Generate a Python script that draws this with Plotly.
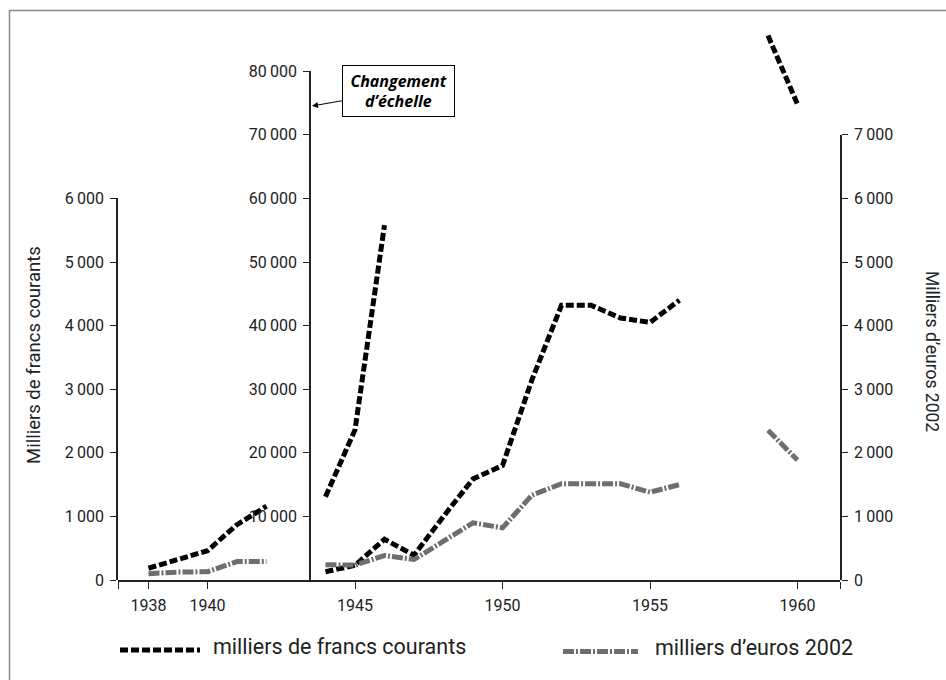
import plotly.graph_objects as go

# ---------------- data ----------------
years_a = [1938, 1939, 1940, 1941, 1942]
francs_a = [185, 320, 460, 870, 1160]          # left axis (milliers de francs)
euros_a = [100, 125, 130, 290, 290]            # right axis (milliers d'euros 2002)

years_hi = [1944, 1945, 1946]
francs_hi = [13100, 23600, 55800]              # middle axis (changement d'échelle)

years_b = [1944, 1945, 1946, 1947, 1948, 1949, 1950, 1951, 1952, 1953, 1954, 1955, 1956]
francs_b = [1300, 2300, 6400, 3900, 10000, 15900, 18000, 31500, 43200, 43200, 41200, 40500, 44000]
euros_b = [240, 235, 385, 322, 610, 900, 820, 1335, 1513, 1513, 1513, 1380, 1500]

years_c = [1959, 1960]
francs_c = [85600, 74800]
euros_c = [2355, 1885]

x_ticks = [1938, 1940, 1945, 1950, 1955, 1960]
left_ticks = [0, 1000, 2000, 3000, 4000, 5000, 6000]
mid_ticks = [10000, 20000, 30000, 40000, 50000, 60000, 70000, 80000]
right_ticks = [0, 1000, 2000, 3000, 4000, 5000, 6000, 7000]

label_francs = "milliers de francs courants"
label_euros = "milliers d\u2019euros 2002"

# ---------------- geometry helpers ----------------
W, H = 946, 680
ML, MR, MT, MB = 118, 106, 20, 100
PW, PH = W - ML - MR, H - MT - MB
PX_PER_YEAR = 29.5
PX_PER_UNIT = 63.6 / 1000.0       # px per (left/right unit); middle axis = /10
X0 = 1945 - (355 - ML) / PX_PER_YEAR
X1 = X0 + PW / PX_PER_YEAR


def px(xp):
    return (xp - ML) / PW


def py(yp):
    return (H - MB - yp) / PH


def fmt(v):
    return f"{v:,}".replace(",", "\u2009")


FONT = "Roboto, 'DejaVu Sans', sans-serif"
AX = "#222222"
BLACK_DASH = "8px,3px"
GREY_DASH = "11px,2px,2px,2px"
GREY = "#6e6e6e"

fig = go.Figure()


def line(x, y, yaxis, color, dash):
    fig.add_trace(go.Scatter(x=x, y=y, xaxis="x", yaxis=yaxis, mode="lines",
                             line=dict(color=color, width=5, dash=dash),
                             showlegend=False, hoverinfo="x+y"))


# grey (euros) first, black (francs) on top
line(years_a, euros_a, "y4", GREY, GREY_DASH)
line(years_b, euros_b, "y4", GREY, GREY_DASH)
line(years_c, euros_c, "y4", GREY, GREY_DASH)
line(years_a, francs_a, "y2", "black", BLACK_DASH)
line(years_hi, francs_hi, "y3", "black", BLACK_DASH)
line(years_b, francs_b, "y3", "black", BLACK_DASH)
line(years_c, francs_c, "y", "black", BLACK_DASH)

tickfont = dict(family=FONT, size=16, color=AX)
common_y = dict(showline=True, linecolor=AX, linewidth=1.5, ticks="outside",
                ticklen=6, tickwidth=1.2, tickcolor=AX, showgrid=False,
                zeroline=False, tickfont=tickfont, fixedrange=True,
                ticklabelstandoff=3)

fig.update_layout(
    width=W, height=H, autosize=False,
    margin=dict(l=ML, r=MR, t=MT, b=MB),
    paper_bgcolor="white", plot_bgcolor="rgba(0,0,0,0)",
    showlegend=False,
    xaxis=dict(domain=[0, 1], range=[X0, X1], anchor="y", showline=True,
               linecolor=AX, linewidth=1.5, ticks="outside", ticklen=7,
               tickwidth=1.2, tickcolor=AX,
               tickvals=[X0] + x_ticks + [X1],
               ticktext=[""] + [str(v) for v in x_ticks] + [""],
               showgrid=False, zeroline=False, tickfont=tickfont,
               fixedrange=True, ticklabelstandoff=3),
    yaxis=dict(domain=[0, 1], range=[0, PH / PX_PER_UNIT * 10], visible=False,
               fixedrange=True),
    yaxis2=dict(domain=[0, 6000 * PX_PER_UNIT / PH], range=[0, 6000],
                anchor="x", side="left",
                tickvals=left_ticks, ticktext=[fmt(v) for v in left_ticks],
                **common_y),
    yaxis3=dict(domain=[0, 80000 * PX_PER_UNIT / 10 / PH], range=[0, 80000],
                anchor="free", position=px(310), side="left",
                tickvals=mid_ticks, ticktext=[fmt(v) for v in mid_ticks],
                **common_y),
    yaxis4=dict(domain=[0, 7000 * PX_PER_UNIT / PH], range=[0, 7000],
                anchor="x", side="right",
                tickvals=right_ticks, ticktext=[fmt(v) for v in right_ticks],
                **common_y),
)

# outer frame
fig.add_shape(type="rect", xref="paper", yref="paper",
              x0=px(9.5), x1=px(970), y0=py(700), y1=py(10.5),
              line=dict(color="#8a8a8a", width=1.5), fillcolor="rgba(0,0,0,0)",
              layer="below")

# axis titles
fig.add_annotation(xref="paper", yref="paper", x=px(34), y=py(355),
                   xanchor="center", yanchor="middle",
                   text="Milliers de francs courants", textangle=-90,
                   showarrow=False, font=dict(family=FONT, size=18.5, color=AX))
fig.add_annotation(xref="paper", yref="paper", x=px(932), y=py(352),
                   xanchor="center", yanchor="middle",
                   text="Milliers d\u2019euros 2002", textangle=90,
                   showarrow=False, font=dict(family=FONT, size=17.5, color=AX))

# "Changement d'échelle" call-out
fig.add_annotation(xref="x", yref="y", x=X0 + (312 - ML) / PX_PER_YEAR,
                   y=(H - MB - 106) / PX_PER_UNIT * 10,
                   text="<b><i>Changement<br>d\u2019\u00e9chelle</i></b>",
                   showarrow=True, arrowhead=2, arrowsize=1.2, arrowwidth=1,
                   arrowcolor="black", ax=86, ay=-15,
                   bordercolor="black", borderwidth=1, borderpad=2,
                   bgcolor="white", width=107, height=46,
                   font=dict(family="'Open Sans', sans-serif", size=16, color="black"))

# manual legend
fig.add_shape(type="line", xref="paper", yref="paper",
              x0=px(120), x1=px(200), y0=py(650), y1=py(650),
              line=dict(color="black", width=5, dash=BLACK_DASH))
fig.add_annotation(xref="paper", yref="paper", x=px(211), y=py(646),
                   xanchor="left", yanchor="middle", showarrow=False,
                   text=label_francs, font=dict(family=FONT, size=21.5, color=AX))
fig.add_shape(type="line", xref="paper", yref="paper",
              x0=px(563), x1=px(638), y0=py(651.5), y1=py(651.5),
              line=dict(color=GREY, width=5, dash=GREY_DASH))
fig.add_annotation(xref="paper", yref="paper", x=px(653), y=py(647),
                   xanchor="left", yanchor="middle", showarrow=False,
                   text=label_euros, font=dict(family=FONT, size=21.5, color=AX))

fig.write_html("out.html", config={"displayModeBar": False},
               post_script="document.body.style.margin='0px';")
